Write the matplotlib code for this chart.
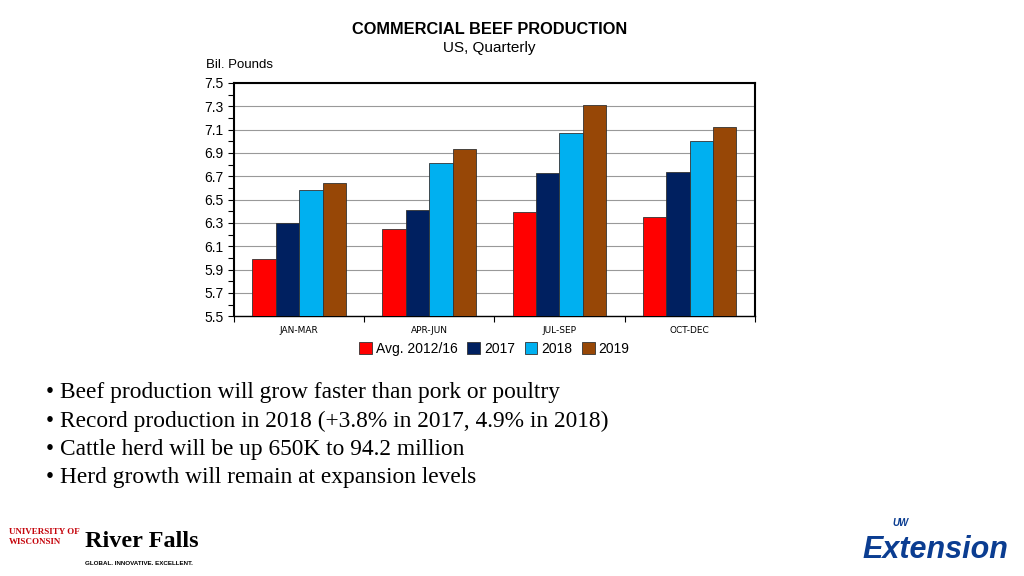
import numpy as np
import matplotlib.pyplot as plt
from matplotlib.ticker import FixedLocator

# данные графика
quarters = ["JAN-MAR", "APR-JUN", "JUL-SEP", "OCT-DEC"]
series_names = ["Avg. 2012/16", "2017", "2018", "2019"]
avg_2012_16 = [5.99, 6.25, 6.39, 6.35]
y2017 = [6.30, 6.41, 6.73, 6.74]
y2018 = [6.58, 6.81, 7.07, 7.00]
y2019 = [6.64, 6.93, 7.31, 7.12]
colors = ["#FF0000", "#002060", "#00B0F0", "#974706"]

bullets = [
    "\u2022 Beef production will grow faster than pork or poultry",
    "\u2022 Record production in 2018 (+3.8% in 2017, 4.9% in 2018)",
    "\u2022 Cattle herd will be up 650K to 94.2 million",
    "\u2022 Herd growth will remain at expansion levels",
]

fig = plt.figure(figsize=(10.24, 5.76), dpi=100)
ax = fig.add_axes([0.2285, 0.451, 0.5085, 0.405])

x = np.arange(len(quarters))
w = 0.18
all_series = [avg_2012_16, y2017, y2018, y2019]
for i, (vals, name, c) in enumerate(zip(all_series, series_names, colors)):
    ax.bar(x + (i - 1.5) * w, np.array(vals) - 5.5, bottom=5.5, width=w,
           color=c, edgecolor="#333333", linewidth=0.6, label=name, zorder=3)

ax.set_ylim(5.5, 7.5)
ax.set_xlim(-0.5, 3.5)
yt = np.round(np.arange(5.5, 7.51, 0.2), 1)
ax.yaxis.set_major_locator(FixedLocator(yt))
ax.yaxis.set_minor_locator(FixedLocator(np.round(np.arange(5.6, 7.5, 0.2), 1)))
ax.set_yticklabels([f"{v:.1f}" for v in yt], fontsize=10, family="Liberation Sans")
ax.grid(axis="y", color="#999999", linewidth=0.8, zorder=0)
ax.tick_params(axis="y", which="both", direction="out", length=4, width=0.8)

# подписи кварталов по центру, засечки на границах групп
ax.xaxis.set_major_locator(FixedLocator([-0.5, 0.5, 1.5, 2.5, 3.5]))
ax.xaxis.set_major_formatter(plt.NullFormatter())
ax.set_xticks(x, quarters, minor=True, fontsize=6.5)
ax.tick_params(axis="x", which="major", direction="out", length=4, width=0.8)
ax.tick_params(axis="x", which="minor", length=0, pad=7)

for s in ax.spines.values():
    s.set_linewidth(1.5)
    s.set_color("black")
ax.spines["bottom"].set_linewidth(1.0)

ax.legend(loc="upper center", bbox_to_anchor=(0.5, -0.055), ncol=4, frameon=False,
          handlelength=0.9, handleheight=0.9, handletextpad=0.3,
          columnspacing=0.7, prop={"family": "Liberation Sans", "size": 10})

fig.text(0.478, 0.948, "COMMERCIAL BEEF PRODUCTION", ha="center", va="center",
         fontsize=11.8, fontweight="bold", family="Liberation Sans")
fig.text(0.478, 0.917, "US, Quarterly", ha="center", va="center",
         fontsize=11, family="Liberation Sans")
fig.text(0.201, 0.888, "Bil. Pounds", ha="left", va="center", fontsize=9.5,
         family="Liberation Sans")

for k, line in enumerate(bullets):
    fig.text(0.045, 0.318 - k * 0.0488, line, ha="left", va="center",
             fontsize=16.8, family="Liberation Serif")

# логотипы текстом
fig.text(0.009, 0.068, "UNIVERSITY OF\nWISCONSIN", ha="left", va="center",
         fontsize=6.5, fontweight="bold", color="#C5050C", family="Liberation Serif",
         linespacing=1.4)
fig.text(0.083, 0.042, "River Falls", ha="left", va="bottom", fontsize=17.5,
         fontweight="bold", family="Liberation Serif")
fig.text(0.083, 0.022, "GLOBAL. INNOVATIVE. EXCELLENT.", ha="left", va="center",
         fontsize=4.5, fontweight="bold", family="Liberation Sans")

fig.text(0.872, 0.092, "UW", ha="left", va="center", fontsize=7, fontweight="bold",
         style="italic", color="#0B3D91", family="Liberation Sans")
fig.text(0.842, 0.045, "Extension", ha="left", va="center", fontsize=22,
         fontweight="bold", style="italic", color="#0B3D91", family="Liberation Sans")

fig.savefig("out.png", dpi=100)
